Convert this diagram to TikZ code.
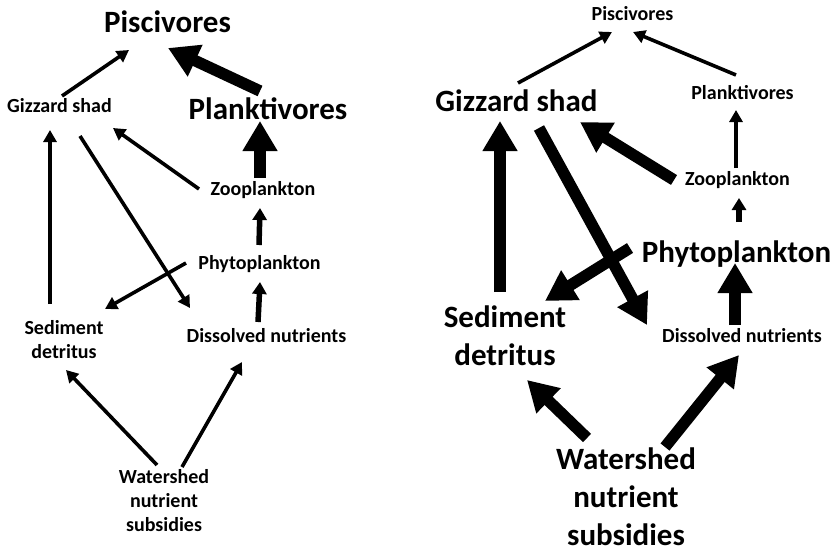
\documentclass[tikz,border=0pt]{standalone}
\usepackage{fontspec}
\setmainfont{Carlito}
\usetikzlibrary{arrows.meta,calc}
\newcommand\smallfnt{\fontsize{20}{24}\selectfont\bfseries}
\newcommand\bigfnt{\fontsize{31}{38}\selectfont\bfseries}
\begin{document}
\begin{tikzpicture}[x=1pt,y=-1pt,
  lbl/.style={inner sep=0pt, anchor=base},
  mlbl/.style={inner sep=0pt, anchor=north, align=center},
  sm/.style={font=\smallfnt},
  bg/.style={font=\bigfnt},
  thinarr/.style={line width=3.6pt, -{Triangle[width=13pt,length=12pt]}},
  midarr/.style={line width=5.5pt, -{Triangle[width=14pt,length=12pt]}},
  thickarr/.style={line width=11.5pt, -{Triangle[width=33pt,length=30pt]}}]
\useasboundingbox (0,0) rectangle (834,551);
% left panel
\node[lbl,bg] (lP) at (167.5,33) {Piscivores};
\node[lbl,bg] (lPl) at (268,119) {Planktivores};
\node[lbl,sm] (lG) at (59.5,112) {Gizzard shad};
\node[lbl,sm] (lZ) at (263,195) {Zooplankton};
\node[lbl,sm] (lPh) at (259.5,269) {Phytoplankton};
\node[lbl,sm] (lD) at (266.5,342) {Dissolved nutrients};
\node[mlbl,sm] (lS) at (64,320) {Sediment\\detritus};
\node[mlbl,sm] (lW) at (164,469) {Watershed\\nutrient\\subsidies};
% right panel
\node[lbl,sm] (rP) at (632.5,21) {Piscivores};
\node[lbl,bg] (rG) at (516.5,111) {Gizzard shad};
\node[lbl,sm] (rPl) at (742.5,99) {Planktivores};
\node[lbl,sm] (rZ) at (737.5,185) {Zooplankton};
\node[lbl,bg] (rPh) at (736.5,262) {Phytoplankton};
\node[lbl,sm] (rD) at (742,342) {Dissolved nutrients};
\node[mlbl,bg] (rS) at (505,305.5) {Sediment\\detritus};
\node[mlbl,bg] (rW) at (626,447.5) {Watershed\\nutrient\\subsidies};
% left arrows
\draw[thinarr] ($(lG.base)+(2.5,-16)$) -- ($(lP.base)+(-38.5,17)$);
\draw[thickarr] ($(lPl.base)+(-8,-28)$) -- ($(lP.base)+(0.5,15)$);
\draw[thickarr] ($(lZ.base)+(-3,-17)$) -- ($(lPl.base)+(-8,2)$);
\draw[thinarr] ($(lZ.base)+(-64,-6)$) -- ($(lG.base)+(53.5,16)$);
\draw[midarr] ($(lPh.base)+(-0.5,-24)$) -- ($(lZ.base)+(-3,13)$);
\draw[thinarr] ($(lG.base)+(20.5,24)$) -- ($(lD.base)+(-76.5,-34)$);
\draw[thinarr] ($(lPh.base)+(-73.5,-6)$) -- ($(lS.north)+(41,-11)$);
\draw[thinarr] ($(lS.north)+(-14,-16)$) -- ($(lG.base)+(-9.5,18)$);
\draw[midarr] ($(lD.base)+(-8.5,-20)$) -- ($(lPh.base)+(0.5,13)$);
\draw[thinarr] ($(lW.north)+(-7,-4)$) -- ($(lS.north)+(2,50)$);
\draw[thinarr] ($(lW.north)+(18,-2)$) -- ($(lD.base)+(-24.5,20)$);
% right arrows
\draw[thinarr] ($(rG.base)+(1.5,-28)$) -- ($(rP.base)+(-20.5,11)$);
\draw[thinarr] ($(rPl.base)+(-6.5,-24)$) -- ($(rP.base)+(0.5,11)$);
\draw[thinarr] ($(rZ.base)+(-1.5,-17)$) -- ($(rPl.base)+(-6.5,11)$);
\draw[midarr] ($(rPh.base)+(2.5,-40)$) -- ($(rZ.base)+(1.5,13)$);
\draw[thickarr] ($(rZ.base)+(-63.5,-5)$) -- ($(rG.base)+(63.5,11)$);
\draw[thickarr] ($(rS.north)+(-5,-13.5)$) -- ($(rG.base)+(-16.5,10)$);
\draw[thickarr] ($(rG.base)+(22.5,17)$) -- ($(rD.base)+(-95,-17)$);
\draw[thickarr] ($(rPh.base)+(-106.5,-14)$) -- ($(rS.north)+(40,-4.5)$);
\draw[thickarr] ($(rD.base)+(-7,-17)$) -- ($(rPh.base)+(-1.5,1)$);
\draw[thickarr] ($(rW.north)+(-39,-9.5)$) -- ($(rS.north)+(22,74.5)$);
\draw[thickarr] ($(rW.north)+(39,-0.5)$) -- ($(rD.base)+(-3,13)$);
\end{tikzpicture}
\end{document}
